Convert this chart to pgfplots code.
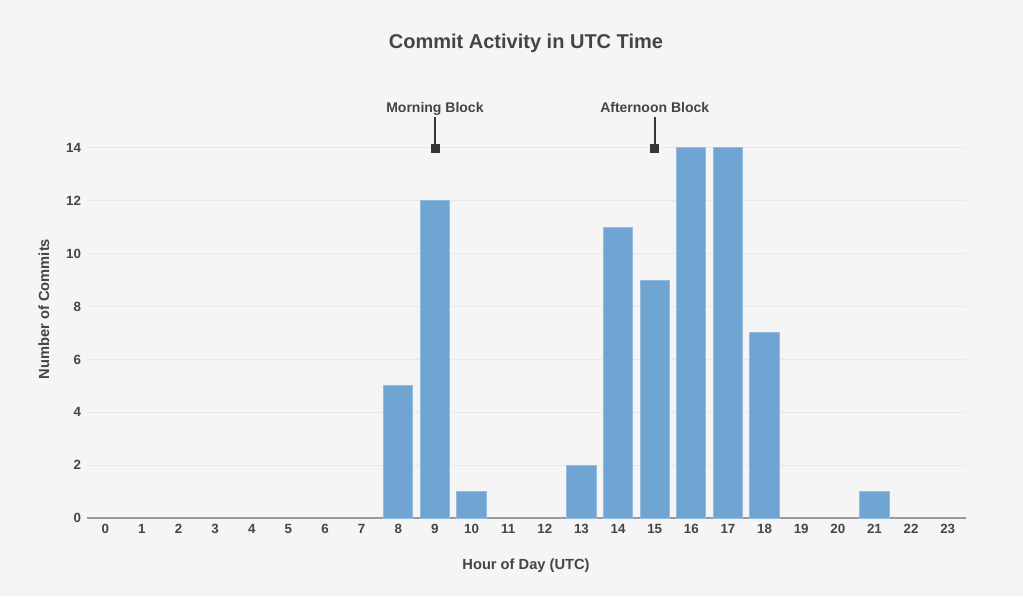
\documentclass[border=0pt]{standalone}
\usepackage{fontspec}
\setmainfont{Liberation Sans}
\usepackage{pgfplots}
\pgfplotsset{compat=1.18}
\definecolor{bg}{HTML}{F5F5F5}
\definecolor{txt}{HTML}{444444}
\definecolor{barc}{RGB}{112,164,210}
\definecolor{gridc}{HTML}{E8E8E8}
\definecolor{axisc}{HTML}{9A9A9A}
\begin{document}
\begin{tikzpicture}[x=0.75pt,y=0.75pt]
  \fill[bg] (0,0) rectangle (1023,596);
  \useasboundingbox (0,0) rectangle (1023,596);
  % titles
  \node[font=\bfseries\fontsize{15}{18}\selectfont, text=txt] at (526,553) {Commit Activity in UTC Time};
  \node[font=\bfseries\fontsize{11}{13}\selectfont, text=txt] at (526,30) {Hour of Day (UTC)};
  \node[font=\bfseries\fontsize{11}{13}\selectfont, text=txt, rotate=90] at (44,287) {Number of Commits};
  \begin{axis}[
      at={(65.25pt,58.5pt)}, anchor=south west,
      scale only axis,
      width=659.25pt, height=313.5pt,
      ybar, bar width=0.8,
      xmin=-0.5, xmax=23.5,
      ymin=0, ymax=15.815,
      xtick={0,...,23},
      ytick={2,4,...,14},
      extra y ticks={0},
      extra y tick style={grid style={draw=axisc, line width=1.5pt}},
      ymajorgrids,
      grid style={draw=gridc, line width=0.75pt},
      axis line style={draw=none},
      major tick length=0pt,
      /pgf/number format/assume math mode=true,
      tick label style={font=\bfseries\fontsize{10}{12}\selectfont, text=txt},
      yticklabel style={xshift=-1pt},
      xticklabel style={yshift=-1pt},
      clip=false,
    ]
    \addplot[fill=barc, draw=barc!75!white, line width=0.75pt]
      coordinates {(8,5) (9,12) (10,1) (13,2) (14,11) (15,9) (16,14) (17,14) (18,7) (21,1)};
    % annotation markers
    \addplot[only marks, mark=square*, mark size=3pt, color=txt!80!black]
      coordinates {(9,14) (15,14)};
    \draw[txt!80!black, line width=1.5pt] (axis cs:9,14) -- ++(0pt,23.25pt)
      node[anchor=base, yshift=3pt, inner sep=0pt, text=txt, font=\bfseries\fontsize{10.5}{12}\selectfont] {Morning Block};
    \draw[txt!80!black, line width=1.5pt] (axis cs:15,14) -- ++(0pt,23.25pt)
      node[anchor=base, yshift=3pt, inner sep=0pt, text=txt, font=\bfseries\fontsize{10.5}{12}\selectfont] {Afternoon Block};
  \end{axis}
\end{tikzpicture}
\end{document}
